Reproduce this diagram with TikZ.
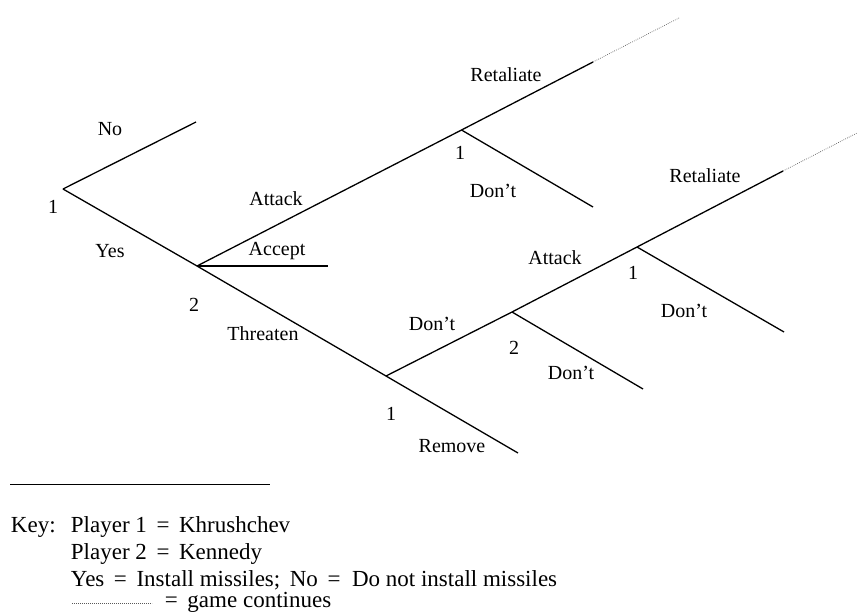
\documentclass[tikz,border=0pt]{standalone}
\usepackage{fontspec}
\setmainfont{Liberation Serif}
\tikzset{
  branch/.style={line width=1.3pt},
  goeson/.style={line width=0.7pt, gray!70!black, dash pattern=on 0.7pt off 1.3pt},
  lbl/.style={inner sep=0.75pt, font=\fontsize{20}{24}\selectfont},
  keyline/.style={inner sep=0.75pt, anchor=base west, font=\fontsize{23}{27}\selectfont}
}
\begin{document}
\begin{tikzpicture}[x=1pt,y=1pt,yscale=-1,xscale=1]
        \useasboundingbox (0,0) rectangle (858,613);

        % decision points and branch ends
        \coordinate (root) at (63,189);
        \coordinate (noEnd) at (196,122);
        \coordinate (ken) at (197,266);
        \coordinate (acceptEnd) at (328,266);
        \coordinate (khA) at (461.5,130);
        \coordinate (retA) at (593,62);
        \coordinate (retAmore) at (679,18);
        \coordinate (dontA) at (593,207);
        \coordinate (khT) at (386,376);
        \coordinate (removeEnd) at (518,453);
        \coordinate (kenT) at (512,312);
        \coordinate (dontT) at (643,389);
        \coordinate (khB) at (637,247);
        \coordinate (retB) at (783,171);
        \coordinate (retBmore) at (857,133);
        \coordinate (dontB) at (784,332);

        %Straight Lines
        \draw [branch] (root) -- (noEnd);
        \draw [branch] (root) -- (ken);
        \draw [branch] (ken) -- (acceptEnd);
        \draw [branch] (ken) -- (khA) -- (retA);
        \draw [goeson] (retA) -- (retAmore);
        \draw [branch] (khA) -- (dontA);
        \draw [branch] (ken) -- (khT) -- (removeEnd);
        \draw [branch] (khT) -- (kenT) -- (khB) -- (retB);
        \draw [goeson] (retB) -- (retBmore);
        \draw [branch] (kenT) -- (dontT);
        \draw [branch] (khB) -- (dontB);

        % Text Node
        \node [lbl] (tNo) at (110,129) {No};
        \node [lbl] (p1root) at (53,207) {1};
        \node [lbl] (tYes) at (110,251) {Yes};
        \node [lbl] (p2ken) at (194,305) {2};
        \node [lbl] (tAttackA) at (276,199) {Attack};
        \node [lbl] (tAccept) at (277,251) {Accept};
        \node [lbl] (tThreaten) at (263,334) {Threaten};
        \node [lbl] (tRetA) at (506,75) {Retaliate};
        \node [lbl] (p1khA) at (460,153) {1};
        \node [lbl] (tDontA) at (493,191) {Don’t};
        \node [lbl] (tDontT) at (432,324) {Don’t};
        \node [lbl] (p1khT) at (391,414) {1};
        \node [lbl] (tRemove) at (452,446) {Remove};
        \node [lbl] (p2kenT) at (514,348) {2};
        \node [lbl] (tDontK) at (571,373) {Don’t};
        \node [lbl] (tAttackB) at (555,258) {Attack};
        \node [lbl] (p1khB) at (633,273) {1};
        \node [lbl] (tDontB) at (684,311) {Don’t};
        \node [lbl] (tRetB) at (705,176) {Retaliate};

        % key
        \coordinate (ruleL) at (10,484);
        \coordinate (ruleR) at (270,484);
        \draw [line width=0.7pt] (ruleL) -- (ruleR);
        \node [keyline] (keyHead) at (10,532) {Key:};
        \node [keyline] (keyOne) at (70,532) {Player 1 \,=\, Khrushchev};
        \node [keyline] (keyTwo) at (70,559) {Player 2 \,=\, Kennedy};
        \node [keyline] (keyThree) at (70,586) {Yes \,=\, Install missiles;\, No \,= \ Do not install missiles};
        \coordinate (dotL) at (72,603);
        \coordinate (dotR) at (152,603);
        \draw [goeson] (dotL) -- (dotR);
        \node [keyline] (keyFour) at (164,607) {= \,game continues};
\end{tikzpicture}
\end{document}
